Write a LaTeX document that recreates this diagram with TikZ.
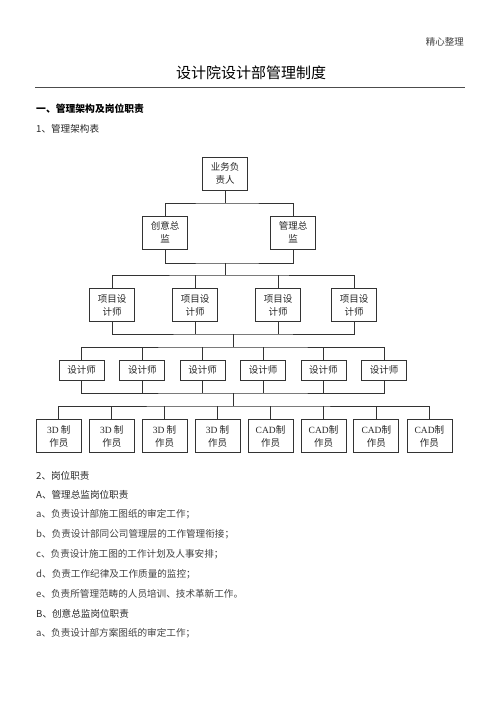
\documentclass[tikz,border=0pt]{standalone}
\usepackage{fontspec}
\setmainfont{Liberation Serif}
\newfontfamily\cjk{Noto Sans CJK SC}
\begin{document}
\begin{tikzpicture}[x=1pt,y=-1pt,
  box/.style={draw=black!80,line width=0.8pt,rectangle,minimum width=45pt,minimum height=33pt,inner sep=0pt,align=center,font=\cjk\fontsize{9.5}{13}\selectfont,text=black!85},
  lowbox/.style={box,minimum height=20pt},
  conn/.style={draw=black!80,line width=0.8pt},
  txt/.style={anchor=west,inner sep=0pt,font=\cjk\fontsize{9.6}{12}\selectfont,text=black!75},
  head/.style={anchor=west,inner sep=0pt,font=\cjk\bfseries\fontsize{9.8}{12}\selectfont,text=black}]
\useasboundingbox (0,0) rectangle (500,707);
% header
\node[anchor=east,inner sep=0pt,font=\cjk\fontsize{9.5}{12}\selectfont,text=black!75] (hdr) at (464,42) {精心整理};
\node[inner sep=0pt,font=\cjk\fontsize{15}{18}\selectfont] (title) at (251,73) {设计院设计部管理制度};
\draw[black!70,line width=0.8pt] (35,87.5) -- (465,87.5);
\node[head] (h1) at (36,109) {一、管理架构及岗位职责};
\node[txt,text=black!85] (h11) at (36,129) {1、管理架构表};
% level 0
\node[box] (boss) at (225,173.5) {业务负\\责人};
% level 1
\node[box] (cd) at (165,232.5) {创意总\\监};
\node[box] (gm) at (293,232.5) {管理总\\监};
% level 2
\node[box] (p1) at (112,305) {项目设\\计师};
\node[box] (p2) at (195,305) {项目设\\计师};
\node[box] (p3) at (278,305) {项目设\\计师};
\node[box] (p4) at (354,305) {项目设\\计师};
% level 3
\node[lowbox] (d1) at (81.7,370) {设计师};
\node[lowbox] (d2) at (142.3,370) {设计师};
\node[lowbox] (d3) at (202.6,370) {设计师};
\node[lowbox] (d4) at (263.1,370) {设计师};
\node[lowbox] (d5) at (323.4,370) {设计师};
\node[lowbox] (d6) at (384,370) {设计师};
% level 4
\node[box] (m1) at (58.8,436) {{\rmfamily 3D} 制\\作员};
\node[box] (m2) at (111.8,436) {{\rmfamily 3D} 制\\作员};
\node[box] (m3) at (164.6,436) {{\rmfamily 3D} 制\\作员};
\node[box] (m4) at (217.6,436) {{\rmfamily 3D} 制\\作员};
\node[box] (m5) at (270.5,436) {{\rmfamily CAD}制\\作员};
\node[box] (m6) at (323.5,436) {{\rmfamily CAD}制\\作员};
\node[box] (m7) at (376.3,436) {{\rmfamily CAD}制\\作员};
\node[box] (m8) at (429.4,436) {{\rmfamily CAD}制\\作员};
% junctions
\coordinate (j1) at (225,203);
\coordinate (j2) at (225,263);
\coordinate (j3) at (225,275);
\coordinate (j4) at (233,334);
\coordinate (j5) at (233,347);
\coordinate (j6) at (233,393);
\coordinate (j7) at (233,406);
% connectors
\draw[conn] (boss.south) -- (j1);
\draw[conn] (cd.north) |- (j1) -| (gm.north);
\draw[conn] (cd.south) |- (j2) -| (gm.south);
\draw[conn] (j2) -- (j3);
\draw[conn] (p1.north) |- (j3) -| (p4.north);
\draw[conn] (p2.north) -- (p2.north |- j3);
\draw[conn] (p3.north) -- (p3.north |- j3);
\draw[conn] (p1.south) |- (j4) -| (p4.south);
\draw[conn] (p2.south) -- (p2.south |- j4);
\draw[conn] (p3.south) -- (p3.south |- j4);
\draw[conn] (j4) -- (j5);
\draw[conn] (d1.north) |- (j5) -| (d6.north);
\foreach \n in {d2,d3,d4,d5} \draw[conn] (\n.north) -- (\n.north |- j5);
\draw[conn] (d1.south) |- (j6) -| (d6.south);
\foreach \n in {d2,d3,d4,d5} \draw[conn] (\n.south) -- (\n.south |- j6);
\draw[conn] (j6) -- (j7);
\draw[conn] (m1.north) |- (j7) -| (m8.north);
\foreach \n in {m2,m3,m4,m5,m6,m7} \draw[conn] (\n.north) -- (\n.north |- j7);
% duties
\node[txt,text=black!85] (s2) at (36,476) {2、岗位职责};
\node[txt,text=black!85] (sA) at (36,495) {A、管理总监岗位职责};
\node[txt] (a1) at (36,514.5) {a、负责设计部施工图纸的审定工作；};
\node[txt] (a2) at (36,534.3) {b、负责设计部同公司管理层的工作管理衔接；};
\node[txt] (a3) at (36,554.2) {c、负责设计施工图的工作计划及人事安排；};
\node[txt] (a4) at (36,574) {d、负责工作纪律及工作质量的监控；};
\node[txt] (a5) at (36,594) {e、负责所管理范畴的人员培训、技术革新工作。};
\node[txt,text=black!85] (sB) at (36,613.5) {B、创意总监岗位职责};
\node[txt] (b1) at (36,633) {a、负责设计部方案图纸的审定工作；};
\end{tikzpicture}
\end{document}
